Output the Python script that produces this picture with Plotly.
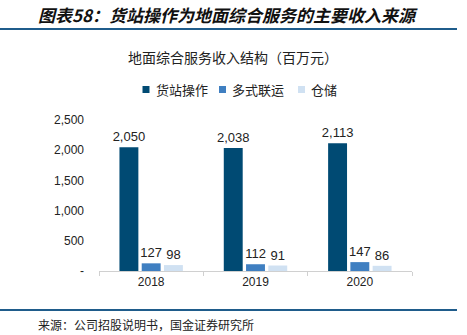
import plotly.graph_objects as go

# Revenue structure of ground services (RMB mn)
years = ["2018", "2019", "2020"]
cargo_handling = [2050, 2038, 2113]   # 货站操作
multimodal = [127, 112, 147]          # 多式联运
warehousing = [98, 91, 86]            # 仓储

series_names = ["货站操作", "多式联运", "仓储"]
series_values = [cargo_handling, multimodal, warehousing]
series_colors = ["#004A73", "#3F7FC1", "#D0E1F2"]

y_tickvals = [0, 500, 1000, 1500, 2000, 2500]
y_ticktext = ["-", "500", "1,000", "1,500", "2,000", "2,500"]

W, H = 467, 335
L, R, T, B = 99, 55, 120, 64
PW, PH = W - L - R, H - T - B

NUM_FONT = "Liberation Sans, Arial, sans-serif"
CJK_FONT = "Noto Sans CJK SC, sans-serif"


def px_x(x):
    return (x - L) / PW


def px_y(y):
    return (H - B - y) / PH


fig = go.Figure()
for name, vals, color in zip(series_names, series_values, series_colors):
    fig.add_trace(go.Bar(
        x=years, y=vals, name=name,
        marker=dict(color=color, line=dict(width=0)),
        text=[f"{v:,}" for v in vals],
        textposition="outside",
        constraintext="none",
        textfont=dict(family=NUM_FONT, size=13, color="#222222"),
        cliponaxis=False,
        showlegend=False,
    ))

shapes = []
annotations = []

# header and footer rules
for yy in (29, 310):
    shapes.append(dict(type="line", xref="paper", yref="paper",
                       x0=px_x(0), x1=px_x(457), y0=px_y(yy), y1=px_y(yy),
                       line=dict(color="#1F5C8B", width=2)))

# main heading
annotations.append(dict(text="<b><i>图表58：货站操作为地面综合服务的主要收入来源</i></b>",
                        xref="paper", yref="paper", x=px_x(36), y=px_y(14),
                        xanchor="left", yanchor="middle", showarrow=False,
                        font=dict(family=CJK_FONT, size=17, color="#111111")))

# chart title
annotations.append(dict(text="地面综合服务收入结构（百万元）",
                        xref="paper", yref="paper", x=px_x(233), y=px_y(57),
                        xanchor="center", yanchor="middle", showarrow=False,
                        font=dict(family=CJK_FONT, size=14, color="#222222")))

# legend
legend_x = [142.5, 219, 298]
for name, color, lx in zip(series_names, series_colors, legend_x):
    shapes.append(dict(type="rect", xref="paper", yref="paper",
                       x0=px_x(lx), x1=px_x(lx + 7), y0=px_y(93), y1=px_y(86),
                       fillcolor=color, line=dict(width=0)))
    annotations.append(dict(text=name, xref="paper", yref="paper",
                            x=px_x(lx + 11), y=px_y(89.5),
                            xanchor="left", yanchor="middle", showarrow=False,
                            font=dict(family=CJK_FONT, size=13, color="#222222")))

# source note
annotations.append(dict(text="来源：公司招股说明书，国金证券研究所",
                        xref="paper", yref="paper", x=px_x(36), y=px_y(324),
                        xanchor="left", yanchor="middle", showarrow=False,
                        font=dict(family=CJK_FONT, size=12, color="#222222")))

fig.update_layout(
    width=W, height=H,
    margin=dict(l=L, r=R, t=T, b=B, pad=0),
    paper_bgcolor="white", plot_bgcolor="white",
    barmode="group", bargap=0.36, bargroupgap=0.15,
    shapes=shapes, annotations=annotations,
    xaxis=dict(type="category", showgrid=False, showline=True,
               linecolor="#D0D0D0", linewidth=1,
               ticks="outside", tickson="boundaries", ticklen=4,
               tickcolor="#D0D0D0",
               tickfont=dict(family=NUM_FONT, size=12, color="#222222")),
    yaxis=dict(range=[0, 2500], tickvals=y_tickvals, ticktext=y_ticktext,
               showgrid=False, showline=False, zeroline=False, ticks="",
               ticklabelstandoff=14,
               tickfont=dict(family=NUM_FONT, size=12, color="#222222")),
)

fig.write_html("out.html")
